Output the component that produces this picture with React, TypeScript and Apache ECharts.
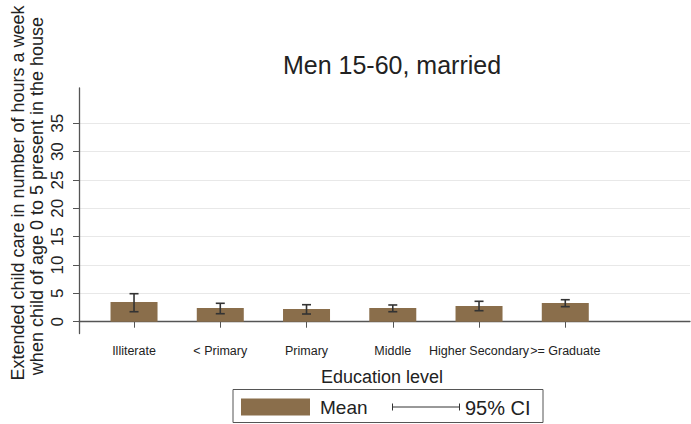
import React, { useEffect, useRef } from "react";
import * as echarts from "echarts";

// Education groups and their mean weekly hours of extended child care with 95% CI bounds
const categories = ["Illiterate", "< Primary", "Primary", "Middle", "Higher Secondary", ">= Graduate"];
const means = [3.48, 2.42, 2.24, 2.42, 2.77, 3.3];
const ciLow = [1.76, 1.41, 1.36, 1.76, 1.94, 2.65];
const ciHigh = [4.94, 3.25, 3.0, 2.95, 3.6, 3.88];
const yTicks = [0, 5, 10, 15, 20, 25, 30, 35];

const FONT = "'Liberation Sans', Arial, sans-serif";
const TEXT = "#222";
const AXIS = "#555";
const BAR = "#8a6e4b";

export default function App() {
  const ref = useRef<HTMLDivElement>(null);

  useEffect(() => {
    if (!ref.current) return;
    const chart = echarts.init(ref.current, null, { renderer: "svg" });
    const positions = categories.map((_, i) => i + 1);

    chart.setOption({
      animation: false,
      backgroundColor: "#fff",
      textStyle: { fontFamily: FONT },
      title: {
        text: "Men 15-60, married",
        left: 387,
        top: 47,
        textAlign: "center",
        textStyle: { fontFamily: FONT, fontSize: 25, fontWeight: "normal", color: TEXT },
      },
      grid: { left: 79, right: 1, top: 88, bottom: 90.5, containLabel: false },
      xAxis: {
        type: "value",
        min: 0.362,
        max: 7.446,
        axisLine: { show: true, lineStyle: { color: AXIS, width: 1.3 } },
        axisTick: { show: true, length: 6, lineStyle: { color: AXIS }, customValues: positions },
        axisLabel: {
          customValues: positions,
          formatter: (v: number) => categories[Math.round(v) - 1] ?? "",
          fontFamily: FONT,
          fontSize: 12.5,
          color: TEXT,
          margin: 11,
          hideOverlap: false,
        },
        splitLine: { show: false },
      },
      yAxis: {
        type: "value",
        min: -2.08,
        max: 41.23,
        axisLine: { show: true, lineStyle: { color: AXIS, width: 1.3 } },
        axisTick: { show: true, length: 6, lineStyle: { color: AXIS }, customValues: yTicks },
        axisLabel: {
          customValues: yTicks,
          rotate: 90,
          fontFamily: FONT,
          fontSize: 17,
          color: TEXT,
          margin: 13,
        },
        splitLine: { show: false },
      },
      series: [
        {
          type: "bar",
          name: "Mean",
          barWidth: 47,
          itemStyle: { color: BAR },
          data: means.map((m, i) => [positions[i], m]),
          markLine: {
            silent: true,
            symbol: "none",
            label: { show: false },
            lineStyle: { color: "#e8e8e8", width: 1.2, type: "solid" },
            data: yTicks.map((t) => ({ yAxis: t })),
            z: 0,
          },
          z: 2,
        },
        {
          type: "custom",
          name: "95% CI",
          z: 3,
          data: positions.map((p, i) => [p, ciLow[i], ciHigh[i]]),
          renderItem: (params: any, api: any) => {
            const x = api.value(0);
            const lo = api.coord([x, api.value(1)]);
            const hi = api.coord([x, api.value(2)]);
            const half = 4.5;
            const style = { stroke: "#333", lineWidth: 1.6, fill: "none" };
            return {
              type: "group",
              children: [
                { type: "line", shape: { x1: lo[0], y1: lo[1], x2: hi[0], y2: hi[1] }, style },
                { type: "line", shape: { x1: lo[0] - half, y1: lo[1], x2: lo[0] + half, y2: lo[1] }, style },
                { type: "line", shape: { x1: hi[0] - half, y1: hi[1], x2: hi[0] + half, y2: hi[1] }, style },
              ],
            };
          },
        },
      ],
      graphic: [
        {
          type: "text",
          x: 18,
          y: 193,
          rotation: Math.PI / 2,
          style: {
            text: "Extended child care in number of hours a week",
            fontFamily: FONT,
            fontSize: 18,
            fill: TEXT,
            textAlign: "center",
            textVerticalAlign: "middle",
          },
        },
        {
          type: "text",
          x: 37,
          y: 196,
          rotation: Math.PI / 2,
          style: {
            text: "when child of age 0 to 5 present in the house",
            fontFamily: FONT,
            fontSize: 18,
            fill: TEXT,
            textAlign: "center",
            textVerticalAlign: "middle",
          },
        },
        {
          type: "text",
          x: 382,
          y: 377,
          style: {
            text: "Education level",
            fontFamily: FONT,
            fontSize: 18,
            fill: TEXT,
            textAlign: "center",
            textVerticalAlign: "middle",
          },
        },
        // legend frame
        {
          type: "rect",
          shape: { x: 233, y: 389.5, width: 310, height: 33 },
          style: { fill: "#fff", stroke: AXIS, lineWidth: 1 },
        },
        {
          type: "rect",
          shape: { x: 241, y: 398.5, width: 69, height: 17 },
          style: { fill: BAR },
        },
        {
          type: "text",
          x: 320,
          y: 407.5,
          style: { text: "Mean", fontFamily: FONT, fontSize: 19, fill: TEXT, textVerticalAlign: "middle" },
        },
        {
          type: "line",
          shape: { x1: 392, y1: 407, x2: 460, y2: 407 },
          style: { stroke: "#333", lineWidth: 1 },
        },
        {
          type: "line",
          shape: { x1: 392.5, y1: 403.5, x2: 392.5, y2: 410.5 },
          style: { stroke: "#333", lineWidth: 1 },
        },
        {
          type: "line",
          shape: { x1: 459.5, y1: 403.5, x2: 459.5, y2: 410.5 },
          style: { stroke: "#333", lineWidth: 1 },
        },
        {
          type: "text",
          x: 465,
          y: 407.5,
          style: { text: "95% CI", fontFamily: FONT, fontSize: 20, fill: TEXT, textVerticalAlign: "middle" },
        },
      ],
    });

    return () => chart.dispose();
  }, []);

  return <div ref={ref} style={{ position: "fixed", left: 0, top: 0, width: 691, height: 424 }} />;
}
